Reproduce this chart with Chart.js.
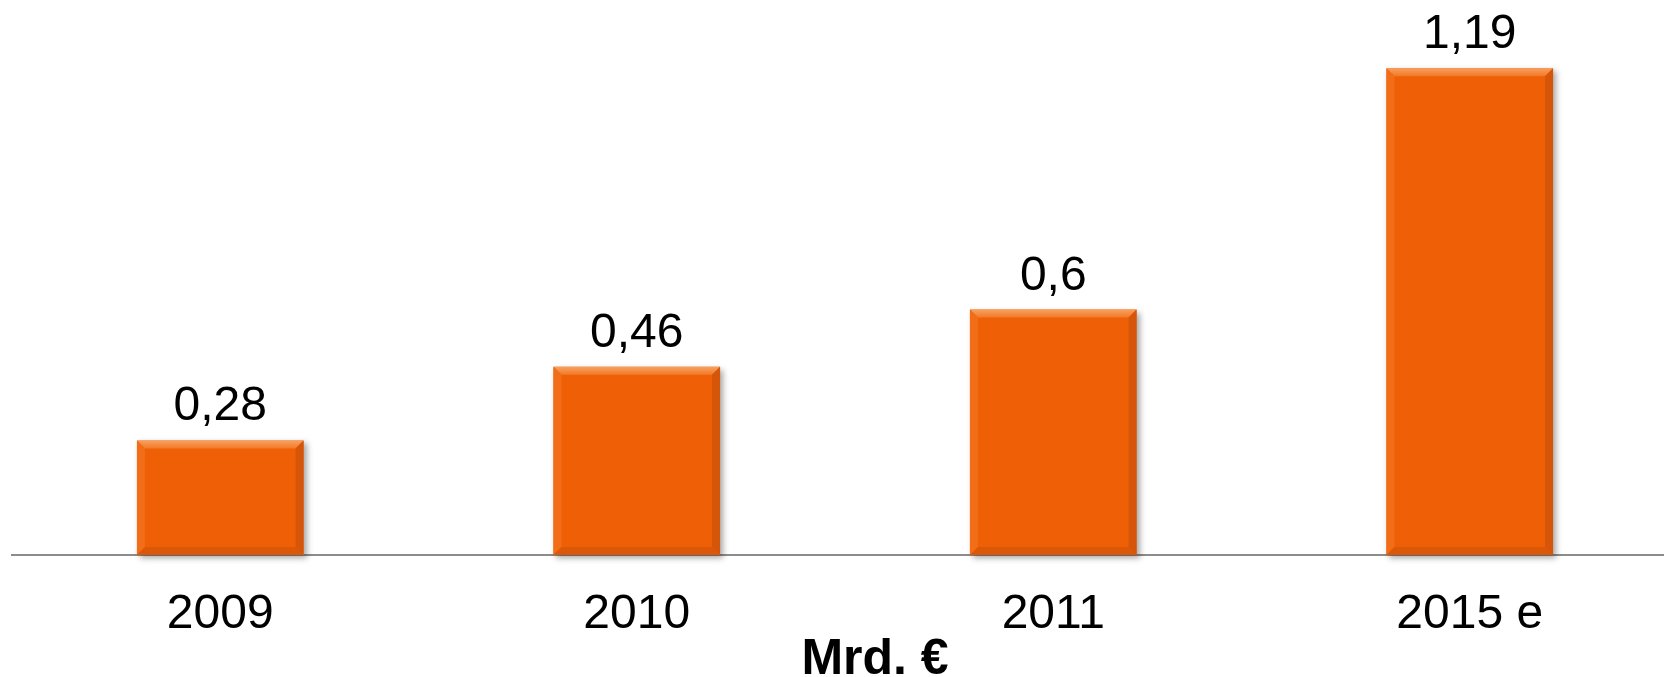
<!DOCTYPE html>
<html>
<head>
<meta charset="utf-8">
<script src="https://cdn.jsdelivr.net/npm/chart.js@4/dist/chart.umd.min.js"></script>
<style>
  html, body { margin: 0; padding: 0; background: #fff; overflow: hidden; }
  #wrap { position: relative; width: 1678px; height: 677px; }
</style>
</head>
<body>
<div id="wrap"><canvas id="c"></canvas></div>
<script>
const categories = ['2009', '2010', '2011', '2015 e'];
const values = [0.28, 0.46, 0.6, 1.19];
const valueLabels = ['0,28', '0,46', '0,6', '1,19'];
const unitLabel = 'Mrd. €';

const barColor = '#EF6006';

const bevelPlugin = {
  id: 'bevel',
  beforeDatasetDraw(chart) {
    const ctx = chart.ctx;
    ctx.save();
    ctx.shadowColor = 'rgba(0,0,0,0.35)';
    ctx.shadowBlur = 6;
    ctx.shadowOffsetX = 3;
    ctx.shadowOffsetY = 3;
  },
  afterDatasetDraw(chart) {
    chart.ctx.restore();
  },
  afterDatasetsDraw(chart) {
    const ctx = chart.ctx;
    const meta = chart.getDatasetMeta(0);
    meta.data.forEach((bar, i) => {
      const p = bar.getProps(['x', 'y', 'base', 'width'], true);
      const l = p.x - p.width / 2, r = p.x + p.width / 2, t = p.y, b = p.base;
      const s = 8;
      const poly = (pts, col) => {
        ctx.beginPath();
        ctx.moveTo(pts[0][0], pts[0][1]);
        for (let k = 1; k < pts.length; k++) ctx.lineTo(pts[k][0], pts[k][1]);
        ctx.closePath();
        ctx.fillStyle = col;
        ctx.fill();
      };
      ctx.save();
      const gTop = ctx.createLinearGradient(0, t, 0, t + s);
      gTop.addColorStop(0, '#F8A060');
      gTop.addColorStop(1, '#F27A28');
      poly([[l, t], [r, t], [r - s, t + s], [l + s, t + s]], gTop);
      poly([[l, t], [l + s, t + s], [l + s, b - s], [l, b]], '#F16D18');
      poly([[r, t], [r - s, t + s], [r - s, b - s], [r, b]], '#D5560A');
      poly([[l, b], [l + s, b - s], [r - s, b - s], [r, b]], '#DA5808');
      // value label
      ctx.fillStyle = '#000';
      ctx.font = '48px "Liberation Sans", Arial, sans-serif';
      ctx.textAlign = 'center';
      ctx.textBaseline = 'alphabetic';
      ctx.fillText(valueLabels[i], p.x, t - 20);
      ctx.restore();
    });
  },
  afterDraw(chart) {
    const ctx = chart.ctx;
    ctx.save();
    ctx.fillStyle = '#000';
    ctx.font = 'bold 50px "Liberation Sans", Arial, sans-serif';
    ctx.textAlign = 'center';
    ctx.textBaseline = 'alphabetic';
    ctx.fillText(unitLabel, 875, 674);
    ctx.restore();
  }
};

new Chart(document.getElementById('c'), {
  type: 'bar',
  data: {
    labels: categories,
    datasets: [{
      data: values,
      backgroundColor: barColor,
      borderWidth: 0,
      categoryPercentage: 1,
      barPercentage: 0.4,
      clip: false
    }]
  },
  options: {
    responsive: true,
    maintainAspectRatio: false,
    animation: false,
    devicePixelRatio: 1,
    layout: { padding: { left: 12, right: 0, top: 26, bottom: 0 } },
    plugins: { legend: { display: false }, tooltip: { enabled: false } },
    scales: {
      x: {
        grid: { display: false, drawTicks: false },
        border: { display: true, color: '#8C8C8C', width: 2 },
        ticks: {
          color: '#000',
          padding: 31,
          font: { family: '"Liberation Sans", Arial, sans-serif', size: 48 }
        },
        afterFit(scale) { scale.height = 122; }
      },
      y: {
        display: false,
        min: 0,
        max: 1.293
      }
    }
  },
  plugins: [bevelPlugin]
});
</script>
</body>
</html>
